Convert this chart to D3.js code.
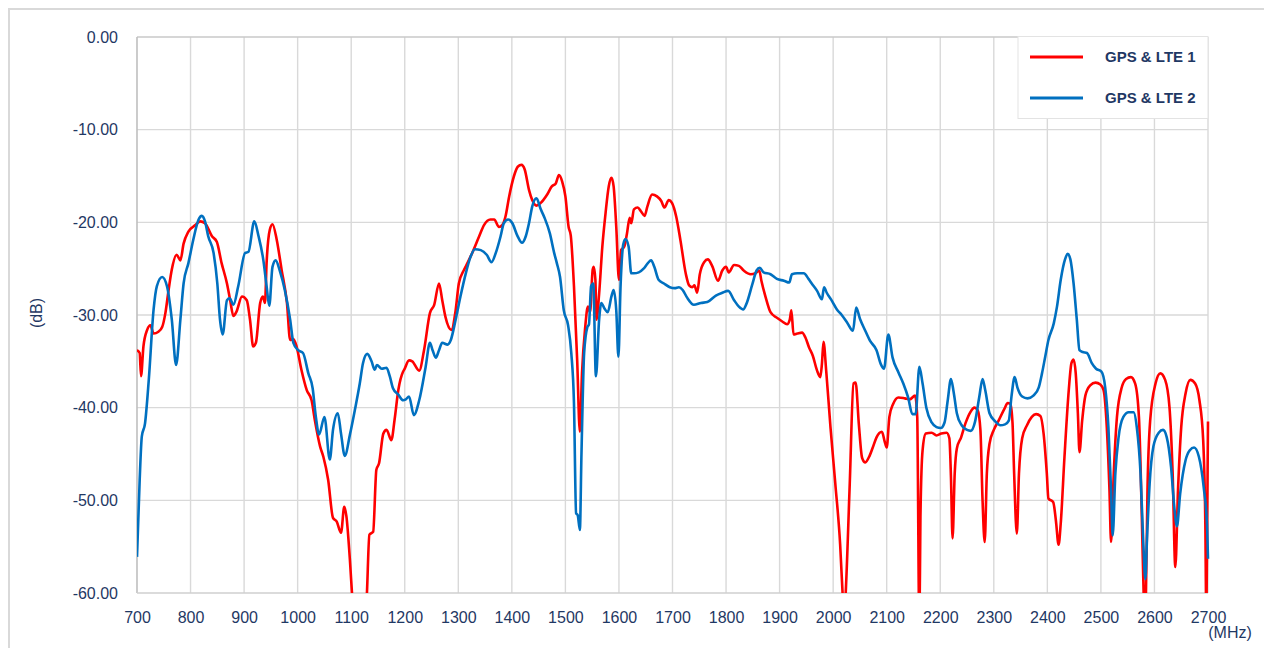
<!DOCTYPE html>
<html>
<head>
<meta charset="utf-8">
<script src="https://cdn.jsdelivr.net/npm/d3@7"></script>
<style>
  html, body { margin: 0; padding: 0; background: #fff; }
  svg { display: block; }
  text { font-family: "Liberation Sans", Arial, sans-serif; fill: #1f3864; }
</style>
</head>
<body>
<svg id="chart" width="1264" height="648"></svg>
<script>
// series names
var seriesNames = ["GPS & LTE 1", "GPS & LTE 2"];

// axis ticks
var xTicks = [700, 800, 900, 1000, 1100, 1200, 1300, 1400, 1500, 1600, 1700, 1800, 1900, 2000, 2100, 2200, 2300, 2400, 2500, 2600, 2700];
var yTicks = [0, -10, -20, -30, -40, -50, -60];

// GPS & LTE 1 (red) : frequency (MHz) / level (dB)
var lte1Freq = [700,705,707.5,712,719,725,731,740,747,753,759,765,774,781,787,796,809,818,827,840,849,858,868,874,880,886,896,905,911,917,922,930,935,939,942,948,953,961,970,980,986,992,998,1007,1017,1026,1032,1042,1048,1057,1066,1073,1081,1087,1091,1098,1102,1108,1122,1129,1134,1141,1147,1152,1160,1166,1175,1181,1188,1197,1199,1208,1214,1227,1236,1247,1255,1264,1270,1276,1287,1295,1301,1311,1317,1326,1339,1348,1360,1367,1376,1382,1388,1395,1404,1411,1418,1424,1432,1438,1446,1454,1466,1475,1482,1488,1494,1500,1506,1510,1516,1522,1527,1531,1537,1542,1546,1551,1553,1556,1558,1563,1569,1575,1581,1586,1590,1595,1600,1604,1610,1615,1620,1623,1628,1635,1641,1648,1653,1662,1671,1679,1685,1693,1699,1707,1715,1725,1731,1737,1741,1746,1751,1759,1766,1774,1785,1793,1800,1805,1815,1824,1833,1846,1855,1862,1866,1874,1883,1895,1905,1914,1919,1922,1926,1933,1942,1948,1955,1962,1970,1976,1979,1982,1987,1995,2004,2013,2018,2020,2023,2031,2038,2042,2048,2054,2060,2068,2074,2081,2091,2096,2100,2105,2112,2122,2134,2143,2153,2157,2161,2163,2167,2173,2184,2193,2202,2212,2217,2220,2223,2227,2231,2239,2247,2256,2264,2270,2275,2279,2283,2287,2292,2300,2309,2320,2326,2331,2335,2338,2343,2347,2353,2362,2371,2379,2387,2393,2399,2402,2411,2416,2421,2425,2432,2440,2445,2449,2453,2457,2460,2465,2471,2480,2490,2499,2505,2511,2516,2519,2524,2530,2539,2547,2556,2564,2571,2576,2580,2582,2584,2587,2592,2602,2611,2620,2628,2634,2639,2644,2650,2658,2667,2676,2684,2691,2695,2697,2700];
var lte1Loss = [-33.8,-34.1,-36.6,-33.4,-31.6,-31.1,-32.0,-31.8,-31.3,-29.8,-27.3,-25.1,-23.5,-24.1,-22.3,-21.0,-20.3,-19.9,-20.1,-21.5,-22.1,-24.4,-26.6,-28.4,-30.1,-29.6,-28.0,-28.4,-30.5,-33.4,-33.0,-28.7,-28.0,-28.7,-24.4,-20.8,-20.2,-21.9,-25.1,-28.7,-32.7,-32.6,-33.4,-35.9,-38.1,-39.2,-41.3,-44.2,-45.3,-47.8,-51.9,-52.3,-53.5,-50.7,-51.7,-56.8,-60.5,-65,-65,-60.5,-53.7,-53.4,-46.7,-46.0,-42.8,-42.4,-43.5,-41.3,-38.1,-36.1,-35.9,-34.9,-35.0,-36.0,-33.8,-29.8,-28.9,-26.6,-28.4,-30.2,-31.6,-29.5,-26.6,-25.1,-24.4,-23.3,-21.5,-20.3,-19.7,-19.7,-20.5,-20.3,-19.4,-17.2,-15.0,-14.0,-13.8,-14.3,-16.5,-17.6,-18.2,-17.9,-17.0,-16.1,-15.8,-14.9,-15.6,-17.2,-20.5,-21.4,-26.9,-34.9,-42.6,-36.3,-31.3,-29.1,-29.7,-25.1,-24.8,-26.2,-30.5,-27.7,-22.6,-19.0,-16.1,-15.2,-16.1,-20.5,-26.2,-23.0,-22.6,-21.2,-19.5,-20.1,-18.6,-18.4,-18.8,-19.3,-18.3,-17.0,-17.2,-17.7,-18.4,-17.6,-17.9,-19.4,-22.0,-25.6,-26.8,-27.0,-26.8,-27.6,-25.6,-24.3,-24.0,-24.7,-26.3,-25.2,-24.8,-25.4,-24.6,-24.7,-25.2,-25.6,-25.5,-25.2,-26.3,-28.1,-29.7,-30.3,-30.7,-31.0,-30.5,-29.5,-32.1,-32.0,-31.9,-32.4,-33.5,-34.4,-36.0,-36.7,-35.3,-32.9,-36.0,-42.1,-48.2,-54.7,-60.5,-63,-60.5,-48.2,-37.4,-37.3,-41.8,-45.4,-45.9,-45.2,-44.3,-43.2,-42.6,-43.6,-44.3,-41.0,-39.6,-38.9,-39.0,-39.1,-38.7,-41.0,-64,-51.8,-44.6,-42.8,-42.7,-43.0,-42.8,-42.7,-43.3,-47.5,-54.1,-47.1,-44.4,-43.2,-41.7,-40.5,-40.0,-40.3,-42.4,-50.0,-54.5,-47.1,-43.9,-42.4,-41.4,-40.1,-39.5,-39.6,-41.7,-47.1,-53.6,-47.1,-43.3,-41.9,-41.0,-40.7,-40.9,-42.8,-47.1,-49.8,-50.2,-52.2,-54.8,-52.5,-45.3,-38.1,-35.2,-34.8,-36.3,-40.6,-44.8,-41.4,-38.7,-37.6,-37.3,-37.5,-38.1,-42.1,-48.9,-54.5,-47.1,-41.0,-37.8,-36.9,-36.7,-37.4,-41.0,-50.7,-60.5,-63,-60.5,-48.9,-41.4,-37.4,-36.3,-37.0,-39.9,-47.1,-57.2,-48.9,-42.1,-38.5,-37.0,-37.4,-39.2,-43.5,-52.5,-63,-41.5];

// GPS & LTE 2 (blue) : frequency (MHz) / level (dB)
var lte2Freq = [700,705,709,715,722,731,737,747,756,765,773,781,787,796,805,815,821,827,833,843,850,855,860,868,873,880,889,902,908,919,927,936,942,947,953,959,967,976,986,992,1001,1010,1020,1028,1034,1040,1050,1060,1066,1075,1081,1088,1098,1107,1116,1122,1130,1138,1144,1148,1157,1166,1172,1178,1188,1197,1202,1208,1217,1227,1239,1247,1252,1258,1264,1270,1280,1286,1295,1304,1314,1323,1331,1342,1353,1362,1370,1379,1385,1393,1401,1410,1419,1426,1432,1438,1446,1454,1461,1471,1479,1484,1490,1497,1505,1511,1516,1520,1523,1527,1530,1535,1541,1544,1548,1552,1557,1563,1567,1573,1579,1586,1590,1595,1599,1603,1608,1612,1618,1623,1628,1637,1646,1654,1660,1666,1674,1684,1695,1704,1712,1719,1727,1740,1753,1765,1781,1793,1804,1815,1824,1832,1838,1849,1857,1863,1870,1883,1895,1908,1918,1923,1933,1945,1954,1960,1970,1979,1983,1988,1998,2007,2016,2026,2037,2043,2050,2060,2069,2081,2089,2095,2103,2111,2122,2131,2140,2148,2154,2161,2167,2174,2184,2193,2201,2208,2214,2220,2225,2231,2240,2250,2257,2265,2273,2279,2284,2292,2303,2312,2321,2328,2333,2339,2344,2353,2363,2374,2384,2390,2396,2402,2412,2418,2425,2433,2438,2443,2449,2455,2460,2466,2474,2483,2491,2501,2508,2514,2519,2522,2527,2533,2542,2552,2561,2567,2574,2579,2583,2586,2591,2598,2608,2616,2623,2631,2637,2642,2648,2658,2666,2674,2683,2692,2698,2700];
var lte2Loss = [-56.1,-47.8,-43.1,-41.7,-37.0,-29.4,-26.9,-25.9,-26.9,-30.5,-35.4,-30.5,-26.6,-24.4,-21.9,-19.7,-19.3,-19.9,-21.5,-23.3,-26.6,-30.5,-32.1,-28.4,-28.2,-28.9,-26.9,-23.3,-23.2,-19.9,-21.5,-24.1,-26.9,-29.0,-24.8,-24.1,-25.3,-27.3,-30.5,-33.0,-33.8,-34.1,-36.3,-37.9,-41.0,-42.9,-41.0,-45.6,-42.4,-40.6,-42.8,-45.2,-42.8,-40.2,-37.4,-35.2,-34.2,-35.0,-35.9,-35.4,-35.8,-35.7,-36.6,-37.9,-38.6,-39.2,-39.1,-38.8,-40.8,-39.2,-35.6,-33.0,-33.8,-34.6,-33.8,-33.0,-33.2,-32.7,-30.5,-28.0,-25.5,-23.7,-22.9,-23.0,-23.5,-24.3,-23.3,-21.5,-20.1,-19.7,-20.1,-21.4,-22.2,-21.5,-20.1,-18.3,-17.4,-18.6,-19.5,-21.2,-23.3,-24.4,-25.9,-29.5,-31.1,-34.1,-39.5,-51.4,-51.6,-53.2,-45.0,-34.1,-31.3,-31.0,-26.9,-26.6,-36.6,-30.5,-28.7,-29.3,-29.7,-28.0,-27.3,-29.5,-34.5,-26.9,-22.4,-21.8,-22.6,-25.5,-25.5,-25.4,-25.0,-24.4,-24.1,-24.8,-26.2,-26.6,-27.0,-27.1,-27.0,-27.3,-28.1,-28.9,-28.7,-28.6,-27.9,-27.6,-27.4,-28.4,-29.1,-29.4,-28.8,-26.7,-25.2,-24.9,-25.4,-25.6,-26.1,-26.3,-26.5,-25.6,-25.5,-25.5,-26.1,-26.6,-27.4,-28.3,-27.0,-27.6,-28.5,-29.4,-30.0,-30.8,-31.7,-29.2,-30.4,-31.7,-32.8,-33.8,-35.3,-35.8,-32.1,-34.6,-36.2,-37.4,-38.9,-40.7,-40.7,-35.6,-37.4,-40.0,-41.6,-42.1,-42.2,-41.6,-39.2,-36.9,-38.3,-40.6,-41.9,-42.4,-42.5,-41.5,-38.8,-36.9,-38.1,-40.6,-41.5,-41.9,-41.8,-41.4,-38.8,-36.7,-37.8,-38.8,-39.0,-38.7,-37.8,-36.3,-34.5,-32.7,-30.9,-29.1,-26.2,-24.0,-23.4,-24.0,-26.6,-30.5,-33.8,-34.0,-34.1,-35.2,-35.8,-36.1,-37.8,-42.1,-48.9,-53.8,-47.1,-43.2,-41.0,-40.5,-40.5,-42.1,-47.1,-54.3,-58.5,-54.3,-48.2,-44.2,-42.7,-42.4,-43.2,-46.4,-50.7,-52.8,-49.3,-45.7,-44.6,-44.3,-45.3,-48.6,-52.5,-56.3];

var seriesColors = ["#ff0000", "#0070c0"];

var svg = d3.select("#chart");
var plotLeft = 137, plotRight = 1208, plotTop = 37, plotBottom = 593;

var x = d3.scaleLinear().domain([700, 2700]).range([plotLeft, plotRight]);
var y = d3.scaleLinear().domain([-60, 0]).range([plotBottom, plotTop]);

// outer chart frame
svg.append("rect")
  .attr("x", 9).attr("y", 9)
  .attr("width", 1300).attr("height", 700)
  .attr("fill", "none")
  .attr("stroke", "#d9d9d9")
  .attr("stroke-width", 2);

// gridlines
var grid = svg.append("g");
grid.selectAll("line.v")
  .data(xTicks.slice(1))
  .enter().append("line")
    .attr("class", "v")
    .attr("x1", function(d) { return x(d); })
    .attr("x2", function(d) { return x(d); })
    .attr("y1", plotTop).attr("y2", plotBottom)
    .attr("stroke", "#d9d9d9").attr("stroke-width", 1.4);
grid.selectAll("line.h")
  .data(yTicks.slice(0, -1))
  .enter().append("line")
    .attr("class", "h")
    .attr("x1", plotLeft).attr("x2", plotRight)
    .attr("y1", function(d) { return y(d); })
    .attr("y2", function(d) { return y(d); })
    .attr("stroke", function(d) { return d === 0 ? "#c9c9c9" : "#d9d9d9"; })
    .attr("stroke-width", 1.4);

// axis lines
svg.append("line").attr("x1", plotLeft).attr("x2", plotLeft).attr("y1", plotTop).attr("y2", plotBottom)
  .attr("stroke", "#bfbfbf").attr("stroke-width", 1.6);
svg.append("line").attr("x1", plotLeft).attr("x2", plotRight).attr("y1", plotBottom).attr("y2", plotBottom)
  .attr("stroke", "#cfcfcf").attr("stroke-width", 1.6);

// axes (labels only)
var yAxis = svg.append("g")
  .attr("transform", "translate(" + plotLeft + ",0)")
  .call(d3.axisLeft(y).tickValues(yTicks).tickSize(0).tickPadding(19)
    .tickFormat(function(d) { return d.toFixed(2); }));
var xAxis = svg.append("g")
  .attr("transform", "translate(0," + plotBottom + ")")
  .call(d3.axisBottom(x).tickValues(xTicks).tickSize(0).tickPadding(19)
    .tickFormat(d3.format("d")));
[yAxis, xAxis].forEach(function(g) {
  g.select(".domain").remove();
  g.selectAll("text").attr("font-size", 16).attr("fill", "#1f3864")
    .style("font-family", "'Liberation Sans', Arial, sans-serif");
});

// axis titles
svg.append("text")
  .attr("transform", "translate(36,313) rotate(-90)")
  .attr("text-anchor", "middle")
  .attr("dy", "0.35em")
  .attr("font-size", 16)
  .text("(dB)");
svg.append("text")
  .attr("x", 1230).attr("y", 632)
  .attr("text-anchor", "middle")
  .attr("dy", "0.35em")
  .attr("font-size", 16)
  .text("(MHz)");

// clip for lines
svg.append("clipPath").attr("id", "plotclip")
  .append("rect").attr("x", plotLeft).attr("y", plotTop - 2)
  .attr("width", plotRight - plotLeft + 2).attr("height", plotBottom - plotTop + 2);

var line = d3.line()
  .x(function(d) { return x(d[0]); })
  .y(function(d) { return y(d[1]); })
  .curve(d3.curveMonotoneX);

var series = [d3.zip(lte1Freq, lte1Loss), d3.zip(lte2Freq, lte2Loss)];

svg.append("g").attr("clip-path", "url(#plotclip)")
  .selectAll("path")
  .data(series)
  .enter().append("path")
    .attr("d", line)
    .attr("fill", "none")
    .attr("stroke", function(d, i) { return seriesColors[i]; })
    .attr("stroke-width", 2.6)
    .attr("stroke-linejoin", "round");

// legend
var legend = svg.append("g");
legend.append("rect")
  .attr("x", 1018).attr("y", 36.5)
  .attr("width", 190).attr("height", 82)
  .attr("fill", "#fff")
  .attr("stroke", "#e3e3e3").attr("stroke-width", 1);
var items = legend.selectAll("g.item")
  .data(seriesNames)
  .enter().append("g")
    .attr("class", "item")
    .attr("transform", function(d, i) { return "translate(0," + (57 + i * 41) + ")"; });
items.append("line")
  .attr("x1", 1030).attr("x2", 1083)
  .attr("stroke", function(d, i) { return seriesColors[i]; })
  .attr("stroke-width", 3);
items.append("text")
  .attr("x", 1105).attr("dy", "0.36em")
  .attr("font-size", 15).attr("font-weight", "bold")
  .text(function(d) { return d; });
</script>
</body>
</html>
